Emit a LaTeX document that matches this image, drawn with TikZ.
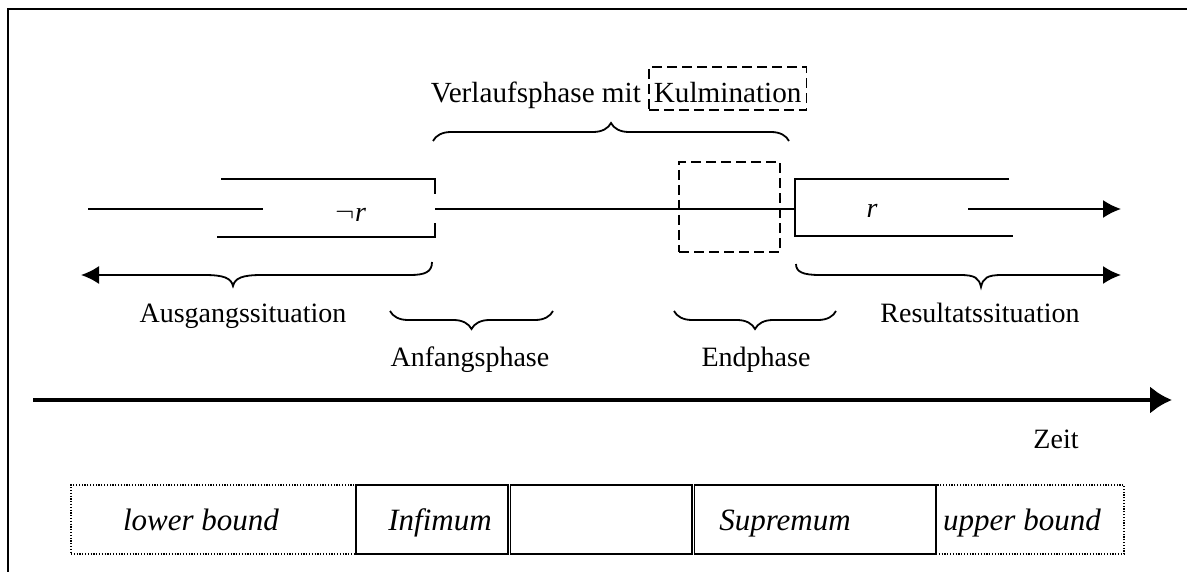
\documentclass[tikz,border=0pt]{standalone}
\usepackage{fontspec}
\setmainfont{Liberation Serif}
\usetikzlibrary{arrows.meta, decorations.pathreplacing, positioning}

\tikzset{
	sitarrow/.style = {-{Latex[length=9pt, width=9pt]}},
	zeitarrow/.style = {line width=2.2pt, -{Latex[length=11pt, width=14pt]}},
	phasebrace/.style = {decorate, decoration={brace, amplitude=9pt}},
	dashbox/.style = {draw, dash pattern=on 5pt off 2.5pt},
	dotbox/.style = {draw, line width=0.6pt, dash pattern=on 0.6pt off 0.8pt, minimum height=34.5pt},
	solidbox/.style = {draw, line width=0.9pt, minimum height=34.5pt},
	boundtext/.style = {anchor=base, font=\fontsize{15.5}{18}\selectfont\itshape}
}

\begin{document}
\begin{tikzpicture}[x=0.5pt, y=-0.5pt, line width=0.9pt, font=\fontsize{14}{16}\selectfont]
	\useasboundingbox (0,0) rectangle (1187,572);
	\draw [line width=1pt] (8,572) -- (8,9) -- (1187,9);

	\node [anchor=base west, inner sep=0pt, font=\fontsize{14.6}{17}\selectfont] (verlauf) at (430,103) {Verlaufsphase mit};
	\node [dashbox, anchor=base west, inner xsep=2.5pt, inner ysep=2pt, text height=16pt, text depth=1.5pt, font=\fontsize{14.6}{17}\selectfont] (kulm) at (648,103) {Kulmination};
	\draw [phasebrace] (433,141) -- (789,141);

	\coordinate (start) at (435,209);
	\coordinate (wechsel) at (795,209);
	\draw (221,179) -| (435,194);
	\draw (217,237) -| (435,223);
	\draw (88,209) -- (263,209);
	\node [anchor=base] (negr) at (351,221) {$\neg$\textit{r}};
	\draw (start) -- (wechsel);
	\node [dashbox, minimum width=50.5pt, minimum height=45pt] (kulmpunkt) at (729.5,207) {};
	\draw (1009,179) -- (795,179) -- (795,236) -- (1013,236);
	\node [anchor=base] (posr) at (872,218) {\textit{r}};
	\draw [sitarrow] (968,209) -- (1121,209);

	\draw [sitarrow] (432,262) .. controls (432,272) and (425,275) .. (410,275) -- (262,275)
		.. controls (242,275) and (235,278) .. (233,286) .. controls (231,278) and (224,275) .. (204,275) -- (81,275);
	\draw [sitarrow] (796,264) .. controls (796,272) and (803,275) .. (820,275) -- (960,275)
		.. controls (975,275) and (979,278) .. (981,287) .. controls (983,278) and (987,275) .. (1002,275) -- (1121,275);
	\node [anchor=base] (ausgang) at (243,322) {Ausgangssituation};
	\node [anchor=base] (resultat) at (980,322) {Resultatssituation};

	\draw [phasebrace, decoration={mirror}] (390,311) -- (553,311);
	\draw [phasebrace, decoration={mirror}] (674,311) -- (836,311);
	\node [anchor=base] (anfang) at (470,366) {Anfangsphase};
	\node [anchor=base] (endph) at (756,366) {Endphase};

	\draw [zeitarrow] (33,400) -- (1172,400);
	\node [anchor=base] (zeit) at (1056,448) {Zeit};

	\node [dotbox, minimum width=142.5pt] (lower) at (213.5,519.5) {};
	\node [dotbox, minimum width=94pt] (upper) at (1030,519.5) {};
	\node [solidbox, minimum width=76pt] (infimum) at (432,519.5) {};
	\node [solidbox, minimum width=90.75pt] (mitte) at (601.25,519.5) {};
	\node [solidbox, minimum width=120.75pt] (supremum) at (815.25,519.5) {};
	\node [boundtext] at (201,530) {lower bound};
	\node [boundtext] at (440,530) {Infimum};
	\node [boundtext] at (785,530) {Supremum};
	\node [boundtext] at (1022,530) {upper bound};
\end{tikzpicture}
\end{document}
